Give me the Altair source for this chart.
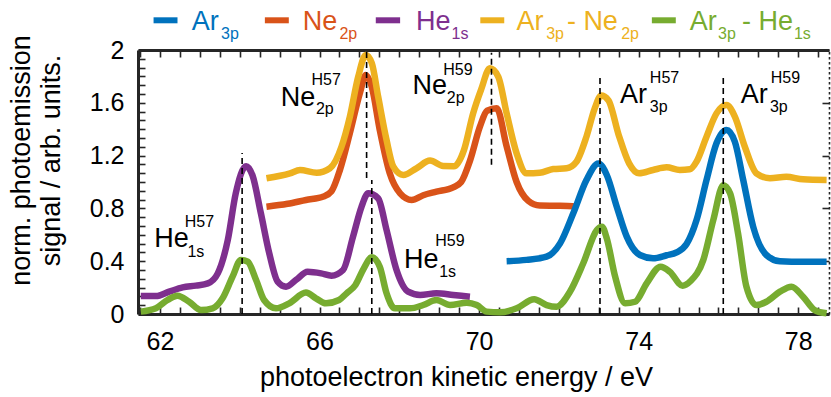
import altair as alt
import pandas as pd

FONT = "Liberation Sans"
INK = "#262626"

# ---- series (photoelectron kinetic energy in eV, normalised signal) ----
ar_energy = [70.69, 71.19, 71.69, 72.03, 72.36, 72.69, 72.99, 73.2, 73.45, 73.7, 74.03,
             74.36, 74.7, 74.95, 75.2, 75.45, 75.7, 75.95, 76.2, 76.41, 76.62, 76.87,
             77.2, 77.54, 78.12, 78.71]
ar_signal = [0.40, 0.41, 0.434, 0.535, 0.763, 1.015, 1.141, 1.053, 0.813, 0.586, 0.447,
             0.422, 0.445, 0.467, 0.53, 0.712, 1.015, 1.293, 1.394, 1.305, 1.015, 0.661,
             0.447, 0.40, 0.396, 0.396]

ne_energy = [64.67, 65.2, 65.66, 66.1, 66.3, 66.51, 66.76, 67.01, 67.16, 67.31, 67.51,
             67.76, 68.02, 68.31, 68.6, 68.93, 69.35, 69.55, 69.77, 70.02, 70.2, 70.44,
             70.69, 70.94, 71.23, 71.52, 72.03, 72.48]
ne_signal = [0.813, 0.835, 0.864, 0.89, 0.93, 1.09, 1.369, 1.672, 1.81, 1.72, 1.394,
             1.066, 0.914, 0.864, 0.9, 0.927, 0.96, 1.0, 1.16, 1.419, 1.54, 1.558,
             1.27, 1.0, 0.858, 0.822, 0.82, 0.813]

he_energy = [61.52, 61.9, 62.23, 62.57, 62.9, 63.2, 63.45, 63.7, 63.9, 64.16, 64.32,
             64.53, 64.74, 64.95, 65.16, 65.41, 65.7, 66.04, 66.3, 66.59, 66.84, 67.05,
             67.22, 67.47, 67.68, 67.93, 68.22, 68.52, 68.93, 69.35, 69.77]
he_signal = [0.136, 0.136, 0.169, 0.202, 0.215, 0.232, 0.308, 0.56, 0.914, 1.12, 1.05,
             0.763, 0.46, 0.245, 0.207, 0.258, 0.32, 0.308, 0.29, 0.333, 0.586, 0.81,
             0.914, 0.876, 0.636, 0.333, 0.169, 0.144, 0.157, 0.144, 0.131]

arne_energy = [64.67, 65.26, 65.51, 65.93, 66.26, 66.55, 66.76, 66.97, 67.16, 67.31,
               67.47, 67.68, 67.85, 68.1, 68.43, 68.77, 69.1, 69.37, 69.62, 69.85, 70.05,
               70.27, 70.48, 70.69, 70.94, 71.19, 71.52, 71.86, 72.19, 72.44, 72.69,
               72.9, 73.06, 73.24, 73.5, 73.76, 74.01, 74.36, 74.7, 75.03, 75.28, 75.45,
               75.7, 75.95, 76.2, 76.41, 76.66, 76.95, 77.29, 77.7, 78.12, 78.71]
arne_signal = [1.028, 1.066, 1.09, 1.07, 1.104, 1.267, 1.495, 1.798, 1.962, 1.9,
               1.646, 1.318, 1.116, 1.053, 1.104, 1.162, 1.121, 1.12, 1.242, 1.52, 1.7,
               1.861, 1.798, 1.52, 1.217, 1.066, 1.07, 1.098, 1.104, 1.154, 1.343,
               1.56, 1.655, 1.62, 1.355, 1.141, 1.066, 1.091, 1.111, 1.091, 1.096, 1.154,
               1.343, 1.52, 1.583, 1.495, 1.267, 1.066, 1.028, 1.04, 1.02, 1.015]

arhe_energy = [61.52, 61.9, 62.19, 62.44, 62.73, 63.03, 63.32, 63.57, 63.82, 64.03, 64.2,
               64.41, 64.61, 64.91, 65.24, 65.66, 65.91, 66.16, 66.49, 66.68, 66.9, 67.1,
               67.31, 67.51, 67.68, 67.89, 68.27, 68.6, 68.93, 69.27, 69.69, 69.94, 70.19,
               70.52, 70.94, 71.38, 71.69, 71.94, 72.28, 72.61, 72.95, 73.08, 73.2, 73.41,
               73.66, 73.91, 74.2, 74.55, 74.78, 75.1, 75.3, 75.62, 75.87, 76.12, 76.29,
               76.49, 76.7, 76.95, 77.2, 77.54, 77.83, 78.12, 78.41, 78.71]
arhe_signal = [0.018, 0.043, 0.106, 0.139, 0.093, 0.03, 0.043, 0.119, 0.283, 0.41, 0.396,
               0.258, 0.106, 0.043, 0.081, 0.162, 0.119, 0.081, 0.106, 0.157, 0.22, 0.34,
               0.43, 0.358, 0.157, 0.043, 0.043, 0.068, 0.106, 0.068, 0.086, 0.068, 0.018,
               0.013, 0.043, 0.112, 0.068, 0.055, 0.17, 0.384, 0.636, 0.661, 0.573, 0.283,
               0.081, 0.093, 0.232, 0.358, 0.32, 0.214, 0.25, 0.41, 0.712, 0.975, 0.914,
               0.611, 0.207, 0.068, 0.093, 0.169, 0.207, 0.131, 0.03, 0.005]

series_colors = {"Ar3p": "#0072BD", "Ne2p": "#D95319", "He1s": "#7E2F8E",
                 "Ar3p - Ne2p": "#EDB120", "Ar3p - He1s": "#77AC30"}

# ---- harmonic markers: position, lower and upper end of each dashed guide ----
marker_energy = [64.06, 67.18, 67.31, 70.31, 73.03, 76.12]
marker_low = [0.0, 1.03, 0.0, 1.13, 0.0, 0.0]
marker_high = [1.22, 2.0, 1.015, 1.98, 1.8, 1.8]

# ---- peak labels: element, superscript (harmonic) and subscript (orbital) ----
label_text = ["He", "H57", "1s", "Ne", "H57", "2p", "Ne", "H59", "2p",
              "He", "H59", "1s", "Ar", "H57", "3p", "Ar", "H59", "3p"]
label_x = [61.86, 62.62, 62.69, 65.03, 65.8, 65.91, 68.33, 69.1, 69.19,
           68.12, 68.9, 69.0, 73.53, 74.28, 74.28, 76.56, 77.31, 77.29]
label_y = [0.505, 0.66, 0.43, 1.578, 1.733, 1.515, 1.664, 1.808, 1.596,
           0.346, 0.513, 0.278, 1.60, 1.75, 1.528, 1.60, 1.75, 1.528]
label_size = [27, 16, 16] * 6

# ---- legend (drawn above the frame) ----
legend_series = list(series_colors)
legend_swatch_x = [61.84, 64.63, 67.41, 70.03, 74.33]
legend_swatch_x2 = [62.44, 65.23, 68.02, 70.63, 74.93]
legend_swatch_y = 2.225
legend_text = ["Ar", "3p", "Ne", "2p", "He", "1s", "Ar", "3p", "- Ne", "2p",
               "Ar", "3p", "- He", "1s"]
legend_text_series = ["Ar3p", "Ar3p", "Ne2p", "Ne2p", "He1s", "He1s",
                      "Ar3p - Ne2p", "Ar3p - Ne2p", "Ar3p - Ne2p", "Ar3p - Ne2p",
                      "Ar3p - He1s", "Ar3p - He1s", "Ar3p - He1s", "Ar3p - He1s"]
legend_text_x = [62.80, 63.53, 65.58, 66.50, 68.42, 69.31, 70.94, 71.68, 72.20, 73.56,
                 75.28, 75.99, 76.59, 77.89]
legend_text_y = [2.152, 2.085, 2.152, 2.085, 2.152, 2.085, 2.152, 2.085, 2.152, 2.085,
                 2.152, 2.085, 2.152, 2.085]
legend_text_size = [27, 16, 27, 16, 27, 16, 27, 16, 27, 16, 27, 16, 27, 16]

# ---- scales and axes ----
x_scale = alt.Scale(domain=[61.45, 78.77], nice=False, zero=False)
y_scale = alt.Scale(domain=[0, 2], nice=False, zero=False)

x_minor = [61.5 + 0.5 * i for i in range(35)]
y_minor = [i / 15 for i in range(31)]
y_major = [0, 0.4, 0.8, 1.2, 1.6, 2.0]

axis_bottom = alt.Axis(orient="bottom", values=[62, 66, 70, 74, 78], ticks=False,
                       domain=True, domainColor=INK, domainWidth=3, grid=False,
                       labelFont=FONT, labelFontSize=25, labelColor="black",
                       labelPadding=15,
                       title="photoelectron kinetic energy / eV", titleFont=FONT,
                       titleFontSize=27, titleFontWeight="normal", titleColor="black",
                       titleX=318, titleY=71, titleBaseline="alphabetic")
axis_left = alt.Axis(orient="left", values=y_major, format=".1~f", ticks=False,
                     domain=True, domainColor=INK, domainWidth=3, grid=False,
                     labelFont=FONT, labelFontSize=25, labelColor="black",
                     labelPadding=14,
                     title=["norm. photoemission", "signal / arb. units."],
                     titleFont=FONT, titleFontSize=27, titleFontWeight="normal",
                     titleColor="black", titleAngle=270, titleX=-109, titleY=110,
                     titleBaseline="alphabetic", titleLineHeight=30)

tick_style = dict(labels=False, domain=False, ticks=True, tickSize=7, tickWidth=1.6,
                  tickColor=INK, offset=-7, grid=False, title=None)
axis_bottom_ticks = alt.Axis(orient="bottom", values=x_minor, **tick_style)
axis_left_ticks = alt.Axis(orient="left", values=y_minor, **tick_style)
axis_top_ticks = alt.Axis(orient="top", values=x_minor, **tick_style)
axis_right_ticks = alt.Axis(orient="right", values=y_major, **tick_style)

axis_top_frame = alt.Axis(orient="top", labels=False, ticks=False, domain=True,
                          domainColor=INK, domainWidth=3, grid=False, title=None)
axis_right_frame = alt.Axis(orient="right", labels=False, ticks=False, domain=True,
                            domainColor=INK, domainWidth=1.6, domainDash=[2.5, 2.5],
                            grid=False, title=None)


def curve(xs, ys, color, x_axis=None, y_axis=None):
    frame = pd.DataFrame({"energy": xs, "signal": ys})
    return alt.Chart(frame).mark_line(
        color=color, strokeWidth=6.5, strokeJoin="round", strokeCap="butt",
        interpolate="monotone"
    ).encode(
        x=alt.X("energy:Q", scale=x_scale, axis=x_axis),
        y=alt.Y("signal:Q", scale=y_scale, axis=y_axis),
    )


ne_line = curve(ne_energy, ne_signal, series_colors["Ne2p"], axis_bottom, axis_left)
ar_line = curve(ar_energy, ar_signal, series_colors["Ar3p"])
he_line = curve(he_energy, he_signal, series_colors["He1s"])
arne_line = curve(arne_energy, arne_signal, series_colors["Ar3p - Ne2p"])
arhe_line = curve(arhe_energy, arhe_signal, series_colors["Ar3p - He1s"])

markers = alt.Chart(pd.DataFrame({"energy": marker_energy, "low": marker_low,
                                  "high": marker_high})).mark_rule(
    color="black", strokeWidth=1.6, strokeDash=[6, 4]
).encode(
    x=alt.X("energy:Q", scale=x_scale, axis=axis_bottom_ticks),
    y=alt.Y("low:Q", scale=y_scale, axis=axis_left_ticks),
    y2="high:Q",
)

labels = alt.Chart(pd.DataFrame({"text": label_text, "x": label_x, "y": label_y,
                                 "size": label_size})).mark_text(
    align="left", baseline="alphabetic", font=FONT, color="black"
).encode(
    x=alt.X("x:Q", scale=x_scale, axis=axis_top_ticks),
    y=alt.Y("y:Q", scale=y_scale, axis=axis_right_ticks),
    text="text:N",
    size=alt.Size("size:Q", scale=None),
)

swatches = alt.Chart(pd.DataFrame({
    "x": legend_swatch_x, "x2": legend_swatch_x2,
    "y": [legend_swatch_y] * len(legend_series),
    "color": [series_colors[s] for s in legend_series],
})).mark_rule(strokeWidth=6).encode(
    x=alt.X("x:Q", scale=x_scale, axis=axis_top_frame),
    x2="x2:Q",
    y=alt.Y("y:Q", scale=y_scale, axis=axis_right_frame),
    color=alt.Color("color:N", scale=None),
)

legend_labels = alt.Chart(pd.DataFrame({
    "text": legend_text, "x": legend_text_x, "y": legend_text_y,
    "size": legend_text_size,
    "color": [series_colors[s] for s in legend_text_series],
})).mark_text(align="left", baseline="alphabetic", font=FONT).encode(
    x=alt.X("x:Q", scale=x_scale, axis=None),
    y=alt.Y("y:Q", scale=y_scale, axis=None),
    text="text:N",
    size=alt.Size("size:Q", scale=None),
    color=alt.Color("color:N", scale=None),
)

chart = alt.layer(
    ne_line, ar_line, he_line, arne_line, arhe_line, markers, labels,
    swatches, legend_labels,
).resolve_axis(
    x="independent", y="independent"
).properties(
    width=691, height=264,
    autosize=alt.AutoSizeParams(type="none"),
    padding={"left": 138, "top": 50, "right": 2, "bottom": 83},
    background="white",
).configure_view(stroke=None)

chart.save("out.html", embed_options={"renderer": "svg", "actions": False})
